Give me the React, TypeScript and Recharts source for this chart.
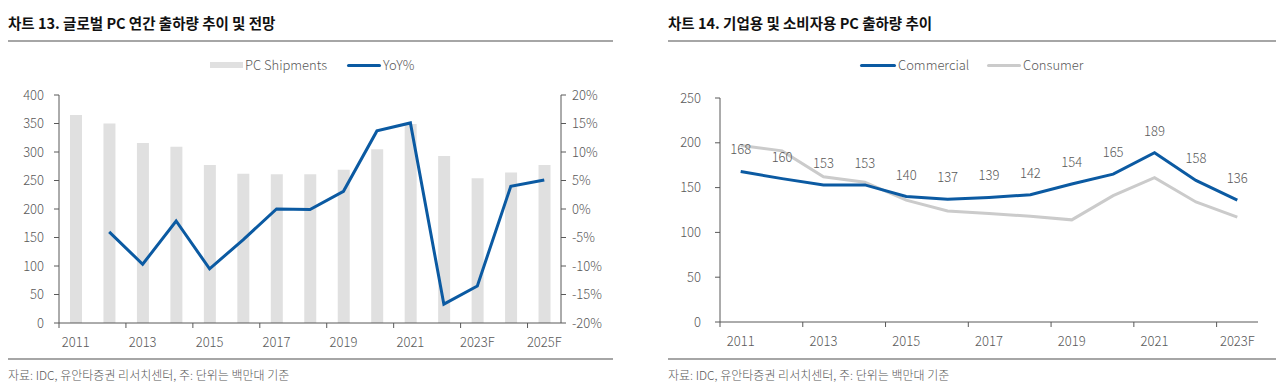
import { Bar, ComposedChart, LabelList, Line, XAxis, YAxis } from "recharts";

// 차트 13: 글로벌 PC 연간 출하량 (백만대) 및 YoY(%)
const years13 = ["2011", "2012", "2013", "2014", "2015", "2016", "2017", "2018", "2019", "2020", "2021", "2022", "2023F", "2024F", "2025F"];
const shipments = [365, 350, 316, 309, 277, 262, 261, 261, 269, 305, 349, 293, 254, 264, 277];
const yoyPct = [null, -4.0, -9.7, -2.1, -10.5, -5.4, 0.0, -0.1, 3.1, 13.7, 15.1, -16.7, -13.5, 4.0, 5.1];
const leftTicks13 = [0, 50, 100, 150, 200, 250, 300, 350, 400];
const rightTicks13 = [-20, -15, -10, -5, 0, 5, 10, 15, 20];

// 차트 14: 기업용 / 소비자용 PC 출하량
const years14 = ["2011", "2012", "2013", "2014", "2015", "2016", "2017", "2018", "2019", "2020", "2021", "2022", "2023F"];
const commercial = [168, 160, 153, 153, 140, 137, 139, 142, 154, 165, 189, 158, 136];
const consumer = [197, 191, 162, 156, 136, 124, 121, 118, 114, 141, 161, 134, 117];
const ticks14 = [0, 50, 100, 150, 200, 250];

const data13 = years13.map((year, i) => ({ year, shipments: shipments[i], yoy: yoyPct[i] }));
const data14 = years14.map((year, i) => ({ year, commercial: commercial[i], consumer: consumer[i] }));

const FONT = "'Noto Sans CJK KR', 'Noto Sans', sans-serif";
const BLUE = "#0b5aa2";
const BAR_GRAY = "#e0e0e0";
const LINE_GRAY = "#cbcbcb";
const AXIS = "#595959";
const TEXT = "#595959";
const RULE = "#a6a6a6";

const tickStyle = { fill: TEXT, fontSize: 13, fontFamily: FONT, fontWeight: 300 };

// ticks sit on the category boundary, labels on the category centre
const makeXTick = (halfBand: number) => (props: any) => {
  const { x, y, payload } = props;
  return (
    <g>
      <line x1={x - halfBand} x2={x - halfBand} y1={y} y2={y + 5} stroke={AXIS} />
      <text x={x} y={y + 24} textAnchor="middle" {...tickStyle}>
        {payload.value}
      </text>
    </g>
  );
};

const Header = ({ left, width, title }: { left: number; width: number; title: string }) => (
  <>
    <div
      style={{
        position: "absolute",
        left,
        top: 13,
        fontSize: 14.5,
        fontWeight: 700,
        color: "#111",
        lineHeight: "20px",
        whiteSpace: "nowrap",
      }}
    >
      {title}
    </div>
    <div style={{ position: "absolute", left, top: 40, width, height: 1.5, background: RULE }} />
    <div style={{ position: "absolute", left, top: 358, width, height: 1.5, background: RULE }} />
    <div
      style={{
        position: "absolute",
        left,
        top: 366,
        fontSize: 12,
        fontWeight: 300,
        color: TEXT,
        lineHeight: "17px",
        whiteSpace: "nowrap",
      }}
    >
      자료: IDC, 유안타증권 리서치센터, 주: 단위는 백만대 기준
    </div>
  </>
);

type LegendItem = { label: string; color: string; kind: "rect" | "line"; left: number; width: number };

const ChartLegend = ({ items }: { items: LegendItem[] }) => (
  <>
    {items.map((it) => (
      <div key={it.label}>
        <div
          style={{
            position: "absolute",
            left: it.left,
            top: it.kind === "rect" ? 62 : 64,
            width: it.width,
            height: it.kind === "rect" ? 6 : 3,
            background: it.color,
            borderRadius: it.kind === "line" ? 2 : 0,
          }}
        />
        <div
          style={{
            position: "absolute",
            left: it.left + it.width + 2,
            top: 56,
            fontSize: 13,
            fontWeight: 300,
            color: TEXT,
            lineHeight: "18px",
            whiteSpace: "nowrap",
          }}
        >
          {it.label}
        </div>
      </div>
    ))}
  </>
);

const App = () => (
  <div
    style={{
      position: "absolute",
      left: 0,
      top: 0,
      width: 1286,
      height: 385,
      background: "#fff",
      fontFamily: FONT,
      overflow: "hidden",
    }}
  >
    <Header left={8} width={605} title="차트 13. 글로벌 PC 연간 출하량 추이 및 전망" />
    <Header left={668} width={608} title="차트 14. 기업용 및 소비자용 PC 출하량 추이" />

    <ChartLegend
      items={[
        { label: "PC Shipments", color: BAR_GRAY, kind: "rect", left: 210, width: 33 },
        { label: "YoY%", color: BLUE, kind: "line", left: 347, width: 34 },
      ]}
    />
    <ChartLegend
      items={[
        { label: "Commercial", color: BLUE, kind: "line", left: 860, width: 36 },
        { label: "Consumer", color: LINE_GRAY, kind: "line", left: 987, width: 34 },
      ]}
    />

    <div style={{ position: "absolute", left: 0, top: 0 }}>
      <ComposedChart width={620} height={385} data={data13} margin={{ top: 95, right: 8, bottom: 32, left: 8 }}>
        <XAxis
          dataKey="year"
          scale="band"
          interval={1}
          height={30}
          axisLine={{ stroke: AXIS }}
          tickLine={false}
          tickSize={0}
          tickMargin={0}
          tick={makeXTick((561 - 59) / years13.length / 2)}
        />
        <YAxis
          yAxisId="left"
          width={51}
          domain={[0, 400]}
          ticks={leftTicks13}
          axisLine={{ stroke: AXIS }}
          tickLine={{ stroke: AXIS }}
          tickSize={5}
          tickMargin={10}
          tick={tickStyle}
        />
        <YAxis
          yAxisId="right"
          orientation="right"
          width={51}
          domain={[-20, 20]}
          ticks={rightTicks13}
          tickFormatter={(v: number) => `${v}%`}
          axisLine={{ stroke: AXIS }}
          tickLine={{ stroke: AXIS }}
          tickSize={5}
          tickMargin={6}
          tick={{ ...tickStyle, textAnchor: "start" }}
        />
        <Bar yAxisId="left" dataKey="shipments" fill={BAR_GRAY} barSize={12} isAnimationActive={false} />
        <Line
          yAxisId="right"
          type="linear"
          dataKey="yoy"
          stroke={BLUE}
          strokeWidth={3}
          dot={false}
          isAnimationActive={false}
        />
      </ComposedChart>
    </div>

    <div style={{ position: "absolute", left: 660, top: 0 }}>
      <ComposedChart width={626} height={385} data={data14} margin={{ top: 98, right: 28, bottom: 33, left: 8 }}>
        <XAxis
          dataKey="year"
          scale="band"
          interval={1}
          height={30}
          axisLine={{ stroke: AXIS }}
          tickLine={false}
          tickSize={0}
          tickMargin={0}
          tick={makeXTick((1258 - 720) / years14.length / 2)}
        />
        <YAxis
          width={52}
          domain={[0, 250]}
          ticks={ticks14}
          axisLine={{ stroke: AXIS }}
          tickLine={{ stroke: AXIS }}
          tickSize={5}
          tickMargin={14}
          tick={tickStyle}
        />
        <Line
          type="linear"
          dataKey="consumer"
          stroke={LINE_GRAY}
          strokeWidth={3}
          dot={false}
          isAnimationActive={false}
        />
        <Line
          type="linear"
          dataKey="commercial"
          stroke={BLUE}
          strokeWidth={3}
          dot={false}
          isAnimationActive={false}
        >
          <LabelList dataKey="commercial" position="top" offset={17} fill={TEXT} fontSize={13} fontFamily={FONT} fontWeight={300} />
        </Line>
      </ComposedChart>
    </div>
  </div>
);

export default App;
